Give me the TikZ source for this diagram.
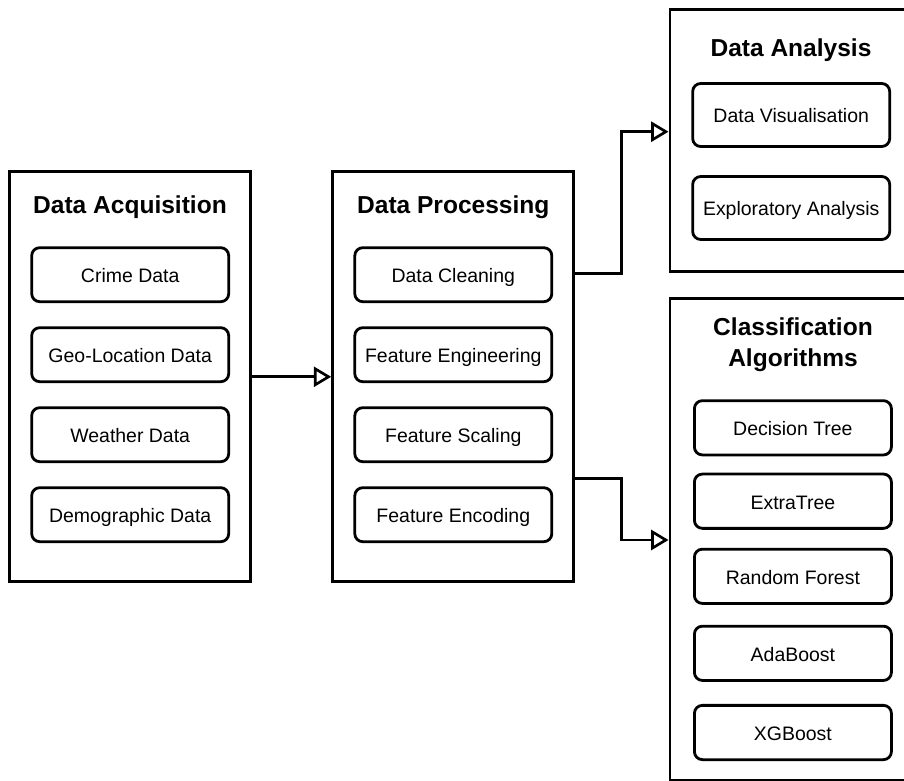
\documentclass[tikz,border=0pt]{standalone}
\usepackage{fontspec}
\setmainfont{Liberation Sans}
\usetikzlibrary{arrows.meta}
\tikzset{
  bigbox/.style={draw=black, line width=2.2pt, fill=white, rectangle, inner sep=0pt},
  itembox/.style={draw=black, line width=2.1pt, rounded corners=6pt, rectangle, inner sep=0pt,
    minimum width=197*0.75pt, font=\fontsize{14.6}{17}\selectfont, text height=12pt, text depth=0pt},
  titletext/.style={font=\fontsize{18.4}{23.6}\selectfont\bfseries, align=center, inner sep=0pt},
  boxtitle/.style={titletext, text height=13.2pt, text depth=0pt},
  conn/.style={draw=black, line width=2.2pt, -{Triangle[open, length=13pt, width=15pt, line width=2pt]}},
}
\begin{document}
\begin{tikzpicture}[x=0.75pt, y=-0.75pt]
\useasboundingbox (0,0) rectangle (904,781);
\clip (0,0) rectangle (904,781);
% big boxes
\node[bigbox, minimum width=241.4*0.75pt, minimum height=409.7*0.75pt] (acq) at (130,376.8) {};
\node[bigbox, minimum width=241.3*0.75pt, minimum height=409.7*0.75pt] (proc) at (453.3,376.8) {};
\node[bigbox, minimum width=242*0.75pt, minimum height=262.4*0.75pt] (ana) at (791,140.5) {};
\node[bigbox, minimum width=246*0.75pt, minimum height=482*0.75pt] (cls) at (793,539.3) {};
% titles
\node[boxtitle] (tacq) at (130,204.5) {Data Acquisition};
\node[boxtitle] (tproc) at (453.3,204.5) {Data Processing};
\node[boxtitle] (tana) at (791,48) {Data Analysis};
\node[titletext] (tcls) at (793,344.5) {Classification\\Algorithms};
% acquisition items
\node[itembox, minimum height=54*0.75pt] (a1) at (130.2,274.7) {Crime Data};
\node[itembox, minimum height=54*0.75pt] (a2) at (130.2,354.7) {Geo-Location Data};
\node[itembox, minimum height=54*0.75pt] (a3) at (130.2,434.7) {Weather Data};
\node[itembox, minimum height=54*0.75pt] (a4) at (130.2,514.7) {Demographic Data};
% processing items
\node[itembox, minimum height=54*0.75pt] (p1) at (453.3,274.7) {Data Cleaning};
\node[itembox, minimum height=54*0.75pt] (p2) at (453.3,354.7) {Feature Engineering};
\node[itembox, minimum height=54*0.75pt] (p3) at (453.3,434.7) {Feature Scaling};
\node[itembox, minimum height=54*0.75pt] (p4) at (453.3,514.7) {Feature Encoding};
% analysis items
\node[itembox, minimum height=63*0.75pt] (d1) at (791.2,115) {Data Visualisation};
\node[itembox, minimum height=63*0.75pt] (d2) at (791.2,208) {Exploratory Analysis};
% classification items
\node[itembox, minimum height=54.3*0.75pt] (c1) at (792.9,427.8) {Decision Tree};
\node[itembox, minimum height=54.3*0.75pt] (c2) at (792.9,501.2) {ExtraTree};
\node[itembox, minimum height=54.3*0.75pt] (c3) at (792.9,576.3) {Random Forest};
\node[itembox, minimum height=54.3*0.75pt] (c4) at (792.9,653.3) {AdaBoost};
\node[itembox, minimum height=54.3*0.75pt] (c5) at (792.9,732.5) {XGBoost};
% connector helper coordinates
\coordinate (o1) at (574,273.3);
\coordinate (i1) at (670,131.7);
\coordinate (o2) at (574,478.3);
\coordinate (i2) at (670,540);
\coordinate (m1) at (621.7,273.3);
\coordinate (m2) at (621.7,478.3);
% connectors
\draw[conn] (acq.east) -- (proc.west);
\draw[conn] (proc.east |- o1) -- (m1) |- (ana.west |- i1);
\draw[conn] (proc.east |- o2) -- (m2) |- (cls.west |- i2);
\end{tikzpicture}
\end{document}
